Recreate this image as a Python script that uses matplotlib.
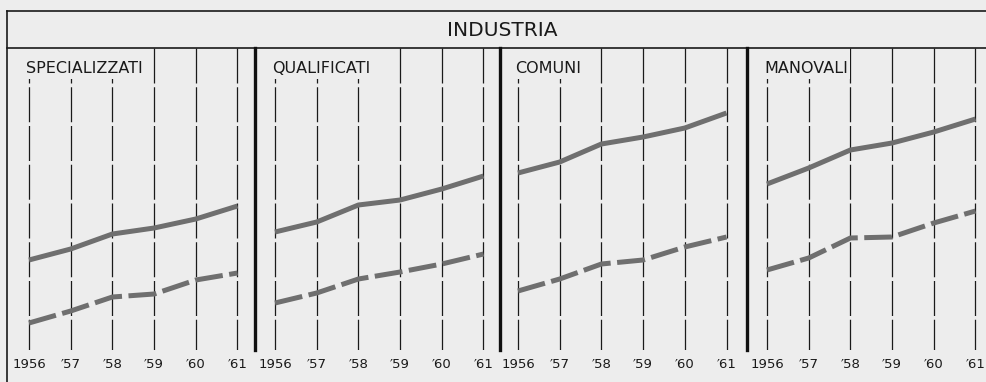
import matplotlib.pyplot as plt
from matplotlib.lines import Line2D
from matplotlib.patches import Rectangle

# Industry wage trend by worker category, 1956-1961 (relative index units,
# the original sheet carries no value scale).
years = [1956, 1957, 1958, 1959, 1960, 1961]
year_labels = ["1956", "\u203257", "\u203258", "\u203259", "\u203260", "\u203261"]
categories = ["SPECIALIZZATI", "QUALIFICATI", "COMUNI", "MANOVALI"]

solid = [
    [90, 101, 116, 122, 131, 144],
    [118, 128, 145, 150, 161, 174],
    [177, 188, 206, 213, 222, 237],
    [166, 182, 200, 207, 218, 231],
]
dashed = [
    [27, 39, 53, 56, 70, 77],
    [47, 57, 71, 78, 86, 96],
    [59, 71, 86, 90, 103, 113],
    [80, 92, 112, 113, 127, 139],
]

W, H = 986, 382
BG = "#ededed"
INK = "#1a1a1a"
SERIES = "#6f6f6f"

plt.rcParams["font.family"] = ["DejaVu Sans"]
fig = plt.figure(figsize=(W / 100, H / 100), dpi=100, facecolor=BG)


def fx(px):
    return px / W


def fy(py):
    return 1 - py / H


# panel geometry in pixels
first_line = [29, 275, 518, 767]
step = 41.7
pad_l, pad_r = 21, 18
top_px, bot_px = 48, 350
ymax = bot_px - top_px

axes = []
for i, cat in enumerate(categories):
    left = first_line[i] - pad_l
    width = step * 5 + pad_l + pad_r
    ax = fig.add_axes([fx(left), fy(bot_px), width / W, (bot_px - top_px) / H])
    ax.set_facecolor("none")
    ax.set_xlim(1956 - pad_l / step, 1961 + pad_r / step)
    ax.set_ylim(0, ymax)
    for s in ax.spines.values():
        s.set_visible(False)
    ax.set_yticks([])
    ax.set_xticks(years)
    ax.set_xticklabels(year_labels, fontsize=9.5, color=INK)
    ax.tick_params(axis="x", length=0, pad=6)

    for yr in years:
        ax.plot([yr, yr], [ymax, 0], color=INK, lw=0.9, ls=(0, (28, 3)), zorder=1)

    ax.plot(years, solid[i], color=SERIES, lw=3.6, solid_capstyle="butt",
            solid_joinstyle="round", zorder=3)
    ax.plot(years, dashed[i], color=SERIES, lw=3.6, ls=(0, (5.6, 1.3)),
            dash_capstyle="butt", dash_joinstyle="round", zorder=3)

    t = ax.annotate(cat, xy=(1956, ymax), xytext=(-2, -14.5),
                    textcoords="offset points", ha="left", va="center",
                    fontsize=11.5, color=INK, zorder=5)
    axes.append((ax, t))

# blank the grid behind each category name, from the header line down
fig.canvas.draw()
renderer = fig.canvas.get_renderer()
for ax, t in axes:
    bb = t.get_window_extent(renderer)
    inv = ax.transAxes.inverted()
    x0, y0 = inv.transform((bb.x0 - 2, bb.y0 - 3))
    x1, _ = inv.transform((bb.x1 + 2, bb.y1))
    ax.add_patch(Rectangle((x0, y0), x1 - x0, 1 - y0, transform=ax.transAxes,
                           facecolor=BG, edgecolor="none", zorder=2, clip_on=False))

# frame, header band and panel separators
frame = [
    ([7, W], [11, 11], 1.2),
    ([7, W], [48, 48], 1.2),
    ([7, 7], [11, H], 1.2),
]
for xs, ys, lw in frame:
    fig.add_artist(Line2D([fx(v) for v in xs], [fy(v) for v in ys], color=INK, lw=lw))
for sx in [255.5, 500, 747]:
    fig.add_artist(Line2D([fx(sx), fx(sx)], [fy(top_px), fy(bot_px)], color="#101010", lw=2.4))

fig.text(fx(502), fy(30), "INDUSTRIA", ha="center", va="center", fontsize=14.5, color=INK)

fig.savefig("out.png", dpi=100, facecolor=BG)
